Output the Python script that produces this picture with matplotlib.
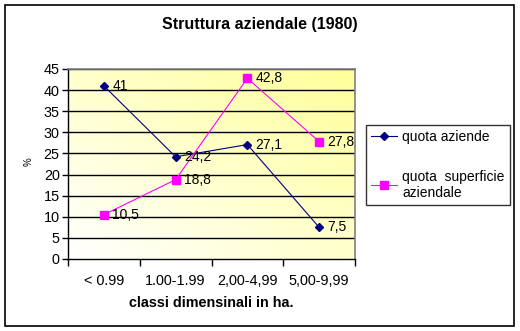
import numpy as np
import matplotlib
matplotlib.use("Agg")
import matplotlib.pyplot as plt
from matplotlib.patches import Rectangle

plt.rcParams['font.family'] = ['Liberation Sans', 'DejaVu Sans']

# dati
classi = ["< 0.99", "1.00-1.99", "2,00-4,99", "5,00-9,99"]
quota_aziende = [41, 24.2, 27.1, 7.5]
quota_superficie = [10.5, 18.8, 42.8, 27.8]
etichette_aziende = ["41", "24,2", "27,1", "7,5"]
etichette_superficie = ["10,5", "18,8", "42,8", "27,8"]

fig = plt.figure(figsize=(5.2, 3.31), dpi=100)
fig.patch.set_facecolor("white")

# cornice esterna
fig.patches.append(Rectangle((5 / 520, 1 - 326 / 331), 509 / 520, 321 / 331,
                             transform=fig.transFigure, fill=False,
                             edgecolor="black", linewidth=1.2))

ax = fig.add_axes([68 / 520, 1 - 259 / 331, 287 / 520, 190 / 331])

# sfondo sfumato (bianco in basso a sinistra, giallo in alto a destra)
n = 200
gx, gy = np.meshgrid(np.linspace(0, 1, n), np.linspace(0, 1, n))
t = (gx + gy) / 2
giallo = np.array([1.0, 1.0, 0.6])
bianco = np.array([1.0, 1.0, 1.0])
img = bianco[None, None, :] * (1 - t[..., None]) + giallo[None, None, :] * t[..., None]
ax.imshow(img, extent=[0, 1, 0, 1], transform=ax.transAxes, origin="lower",
          aspect="auto", zorder=0)

x = np.arange(len(classi))
for v in range(5, 50, 5):
    ax.axhline(v, color="black", linewidth=1, zorder=1)

ax.plot(x, quota_aziende, color="#000080", marker="D", markersize=4.5,
        linewidth=0.8, label="quota aziende", zorder=3)
ax.plot(x, quota_superficie, color="#FF00FF", marker="s", markersize=5.5,
        linewidth=0.8, label="quota  superficie\naziendale", zorder=3)

for xi, yi, s in zip(x, quota_aziende, etichette_aziende):
    ax.annotate(s, (xi, yi), xytext=(6, 0), textcoords="offset points",
                va="center", ha="left", fontsize=10, zorder=4)
for xi, yi, s in zip(x, quota_superficie, etichette_superficie):
    ax.annotate(s, (xi, yi), xytext=(6, 0), textcoords="offset points",
                va="center", ha="left", fontsize=10, zorder=4)

ax.set_xlim(-0.5, 3.5)
ax.set_ylim(0, 45)
ax.set_yticks(range(0, 50, 5))
ax.set_xticks(np.arange(-0.5, 4, 1))
ax.set_xticklabels([])
ax.set_xticks(x, minor=True)
ax.set_xticklabels(classi, minor=True)
ax.tick_params(axis="x", which="minor", length=0, pad=11, labelsize=10.4)
ax.tick_params(axis="x", which="major", length=5, width=1, color="black")
ax.tick_params(axis="y", length=4, width=1, labelsize=10.4, pad=2)

for lato in ["top", "right"]:
    ax.spines[lato].set_color("#808080")
    ax.spines[lato].set_linewidth(1.2)
for lato in ["left", "bottom"]:
    ax.spines[lato].set_color("black")
    ax.spines[lato].set_linewidth(1)

fig.text(0.5, 1 - 25 / 331, "Struttura aziendale (1980)", ha="center",
         va="center", fontsize=11.5, fontweight="bold")
fig.text(211 / 520, 1 - 303 / 331, "classi dimensinali in ha.", ha="center",
         va="center", fontsize=10.4, fontweight="bold")
fig.text(29 / 520, 1 - 162 / 331, "%", ha="center", va="center",
         fontsize=7, rotation=90)

leg = fig.legend(loc="upper left", bbox_to_anchor=(366 / 520, 1 - 125 / 331),
                 fontsize=10, frameon=True, fancybox=False, handlelength=1.9,
                 handletextpad=0.36, labelspacing=1.85, borderpad=0.36,
                 borderaxespad=0)
leg.get_frame().set_edgecolor("black")
leg.get_frame().set_linewidth(1)

fig.savefig("out.png", dpi=100)
